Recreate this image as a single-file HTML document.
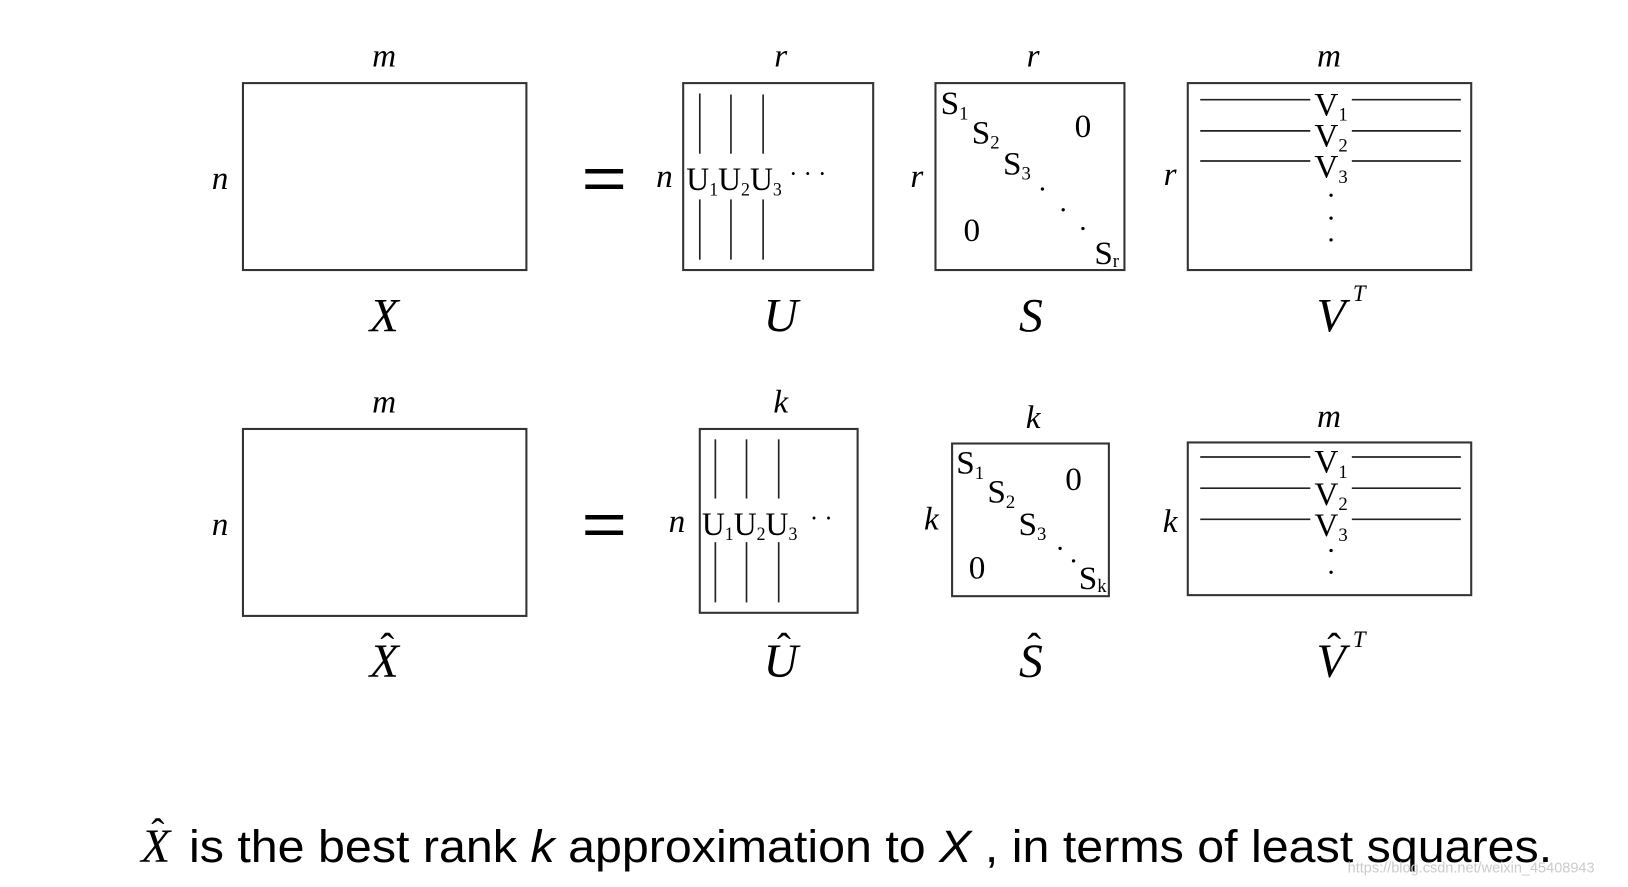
<!DOCTYPE html>
<html><head><meta charset="utf-8"><style>
html,body{margin:0;padding:0;background:#fff;width:1628px;height:887px;overflow:hidden}
svg{display:block}
.it{font-family:"Liberation Serif",serif;font-style:italic}
.rm{font-family:"Liberation Serif",serif}
.sa{font-family:"Liberation Sans",sans-serif}
</style></head><body>
<svg width="1628" height="887" viewBox="0 0 1568 854" preserveAspectRatio="none" xmlns="http://www.w3.org/2000/svg">
<g fill="none" stroke="#333" stroke-width="2">
<rect x="234" y="80" width="273" height="180"/>
<rect x="658" y="80" width="183" height="180"/>
<rect x="901" y="80" width="182" height="180"/>
<rect x="1144" y="80" width="273" height="180"/>
<rect x="234" y="413" width="273" height="180"/>
<rect x="674" y="413" width="152" height="177"/>
<rect x="917" y="427" width="151" height="147"/>
<rect x="1144" y="426" width="273" height="147"/>
</g>
<g stroke="#222" stroke-width="1.6">
<line x1="674" y1="90" x2="674" y2="148"/><line x1="704" y1="91" x2="704" y2="148"/><line x1="735" y1="91" x2="735" y2="148"/>
<line x1="674" y1="192" x2="674" y2="250"/><line x1="704" y1="192" x2="704" y2="250"/><line x1="735" y1="192" x2="735" y2="250"/>
<line x1="689" y1="423" x2="689" y2="480"/><line x1="719" y1="423" x2="719" y2="480"/><line x1="750" y1="423" x2="750" y2="480"/>
<line x1="689" y1="522" x2="689" y2="580"/><line x1="719" y1="522" x2="719" y2="580"/><line x1="750" y1="522" x2="750" y2="580"/>
<line x1="1156" y1="96" x2="1262" y2="96"/><line x1="1302" y1="96" x2="1407" y2="96"/>
<line x1="1156" y1="126" x2="1262" y2="126"/><line x1="1302" y1="126" x2="1407" y2="126"/>
<line x1="1156" y1="155" x2="1262" y2="155"/><line x1="1302" y1="155" x2="1407" y2="155"/>
<line x1="1156" y1="440" x2="1262" y2="440"/><line x1="1302" y1="440" x2="1407" y2="440"/>
<line x1="1156" y1="470" x2="1262" y2="470"/><line x1="1302" y1="470" x2="1407" y2="470"/>
<line x1="1156" y1="500" x2="1262" y2="500"/><line x1="1302" y1="500" x2="1407" y2="500"/>
</g>
<g class="it" font-size="32" text-anchor="middle" fill="#000">
<text x="370" y="64">m</text><text x="752" y="64">r</text><text x="995" y="64">r</text><text x="1280" y="64">m</text>
<text x="212" y="182">n</text><text x="640" y="180">n</text><text x="883" y="180">r</text><text x="1127" y="178">r</text>
<text x="370" y="397">m</text><text x="752" y="397">k</text><text x="995" y="412">k</text><text x="1280" y="411">m</text>
<text x="212" y="515">n</text><text x="652" y="512">n</text><text x="897" y="510">k</text><text x="1127" y="512">k</text>
</g>
<g class="it" font-size="46" text-anchor="middle" fill="#000">
<text x="370" y="319">X</text><text x="752" y="319">U</text><text x="993" y="319">S</text><text x="1282" y="319">V</text>
<text x="370" y="652">X</text><text x="752" y="652">U</text><text x="993" y="652">S</text><text x="1282" y="652">V</text>
</g>
<g class="it" font-size="22" fill="#000"><text x="1303" y="290">T</text><text x="1303" y="623">T</text></g>
<g class="rm" font-size="40" text-anchor="middle" fill="#000">
<text x="373" y="637">ˆ</text><text x="755" y="637">ˆ</text><text x="996" y="637">ˆ</text><text x="1285" y="637">ˆ</text>
</g>
<g font-family="Liberation Sans,sans-serif" font-size="60" fill="#000" text-anchor="middle">
<text x="582" y="192" transform="translate(582 0) scale(1.25 1) translate(-582 0)">=</text><text x="582" y="525" transform="translate(582 0) scale(1.25 1) translate(-582 0)">=</text>
</g>
<g class="rm" font-size="32" fill="#000">
<text x="661" y="183" textLength="92" lengthAdjust="spacingAndGlyphs">U<tspan font-size="18" dy="5">1</tspan><tspan dy="-5">U</tspan><tspan font-size="18" dy="5">2</tspan><tspan dy="-5">U</tspan><tspan font-size="18" dy="5">3</tspan></text>
<text x="760" y="175" font-size="24">·  ·  ·</text>
<text x="676" y="515" textLength="92" lengthAdjust="spacingAndGlyphs">U<tspan font-size="18" dy="5">1</tspan><tspan dy="-5">U</tspan><tspan font-size="18" dy="5">2</tspan><tspan dy="-5">U</tspan><tspan font-size="18" dy="5">3</tspan></text>
<text x="780" y="507" font-size="24">· ·</text>
<text x="906" y="110">S<tspan font-size="18" dy="5">1</tspan></text>
<text x="936" y="138">S<tspan font-size="18" dy="5">2</tspan></text>
<text x="966" y="168">S<tspan font-size="18" dy="5">3</tspan></text>
<text x="1035" y="132">0</text><text x="928" y="232">0</text>
<text x="1054" y="254">S<tspan font-size="18" dy="3">r</tspan></text>
<text x="921" y="456">S<tspan font-size="18" dy="5">1</tspan></text>
<text x="951" y="484">S<tspan font-size="18" dy="5">2</tspan></text>
<text x="981" y="515">S<tspan font-size="18" dy="5">3</tspan></text>
<text x="1026" y="472">0</text><text x="933" y="557">0</text>
<text x="1039" y="567">S<tspan font-size="18" dy="3">k</tspan></text>
<text x="1266" y="111">V<tspan font-size="18" dy="5">1</tspan></text>
<text x="1266" y="141">V<tspan font-size="18" dy="5">2</tspan></text>
<text x="1266" y="171">V<tspan font-size="18" dy="5">3</tspan></text>
<text x="1266" y="455">V<tspan font-size="18" dy="5">1</tspan></text>
<text x="1266" y="486">V<tspan font-size="18" dy="5">2</tspan></text>
<text x="1266" y="516">V<tspan font-size="18" dy="5">3</tspan></text>
</g>
<g fill="#000">
<circle cx="1004" cy="182" r="1.6"/><circle cx="1024" cy="202" r="1.6"/><circle cx="1043" cy="220" r="1.6"/>
<circle cx="1021" cy="528" r="1.6"/><circle cx="1034" cy="540" r="1.6"/>
<circle cx="1282" cy="188" r="1.6"/><circle cx="1282" cy="210" r="1.6"/><circle cx="1282" cy="231" r="1.6"/>
<circle cx="1282" cy="530" r="1.6"/><circle cx="1282" cy="551" r="1.6"/>
</g>
<text class="it" x="150" y="830" font-size="46" text-anchor="middle">X</text>
<text class="rm" x="152" y="814" font-size="38" text-anchor="middle">ˆ</text>
<text class="sa" x="182" y="830" font-size="44" textLength="1313" lengthAdjust="spacingAndGlyphs">is the best rank <tspan font-style="italic">k</tspan> approximation to <tspan font-style="italic">X</tspan> , in terms of least squares.</text>
<text class="sa" x="1298" y="840" font-size="14" fill="#ccc">https://blog.csdn.net/weixin_45408943</text>
</svg>
</body></html>
